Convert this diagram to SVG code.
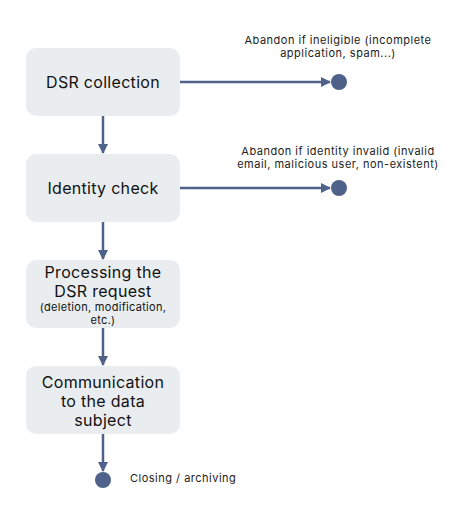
<svg xmlns="http://www.w3.org/2000/svg" width="449" height="510" viewBox="0 0 449 510">
<style>
.box{fill:#e9edf0}
.t{font-family:Inter,"Liberation Sans",sans-serif;fill:#111;text-anchor:middle}
.big{font-size:16px;letter-spacing:0.3px}
.small{font-size:11px;letter-spacing:0.3px}
.note{font-family:Inter,"Liberation Sans",sans-serif;fill:#222;font-size:11px;letter-spacing:0.5px;text-anchor:middle}
.ln{stroke:#4f628a;stroke-width:2.5;fill:none}
.dot{fill:#4f628a}
</style>
<defs>
<marker id="ah" viewBox="0 0 10 10" refX="9" refY="5" markerWidth="4" markerHeight="4" orient="auto" markerUnits="strokeWidth">
<path d="M0,0 L10,5 L0,10 z" fill="#4f628a"/>
</marker>
</defs>
<rect width="449" height="510" fill="#fff"/>
<g id="connectors">
<line class="ln" x1="103" y1="116" x2="103" y2="153" marker-end="url(#ah)"/>
<line class="ln" x1="103" y1="222" x2="103" y2="259" marker-end="url(#ah)"/>
<line class="ln" x1="103" y1="328" x2="103" y2="365" marker-end="url(#ah)"/>
<line class="ln" x1="103" y1="434" x2="103" y2="471" marker-end="url(#ah)"/>
<line class="ln" x1="180" y1="82" x2="330" y2="82" marker-end="url(#ah)"/>
<line class="ln" x1="180" y1="188" x2="330" y2="188" marker-end="url(#ah)"/>
</g>
<g id="n1">
<rect class="box" x="26" y="48" width="154" height="68" rx="10"/>
<text class="t big" x="103" y="88">DSR collection</text>
</g>
<g id="n2">
<rect class="box" x="26" y="154" width="154" height="68" rx="10"/>
<text class="t big" x="103" y="194">Identity check</text>
</g>
<g id="n3">
<rect class="box" x="26" y="260" width="154" height="68" rx="10"/>
<text class="t big" x="103" y="278">Processing the</text>
<text class="t big" x="103" y="297">DSR request</text>
<text class="t small" x="103" y="311">(deletion, modification,</text>
<text class="t small" x="103" y="324">etc.)</text>
</g>
<g id="n4">
<rect class="box" x="26" y="366" width="154" height="68" rx="10"/>
<text class="t big" x="103" y="388">Communication</text>
<text class="t big" x="103" y="407">to the data</text>
<text class="t big" x="103" y="426">subject</text>
</g>
<g id="end1">
<circle class="dot" cx="339" cy="82" r="8"/>
<text class="note" x="338" y="44">Abandon if ineligible (incomplete</text>
<text class="note" x="338" y="57">application, spam...)</text>
</g>
<g id="end2">
<circle class="dot" cx="339" cy="188" r="8"/>
<text class="note" x="338" y="155">Abandon if identity invalid (invalid</text>
<text class="note" x="338" y="168">email, malicious user, non-existent)</text>
</g>
<g id="end3">
<circle class="dot" cx="103" cy="480" r="8"/>
<text class="note" x="130" y="482" style="text-anchor:start">Closing / archiving</text>
</g>
</svg>
